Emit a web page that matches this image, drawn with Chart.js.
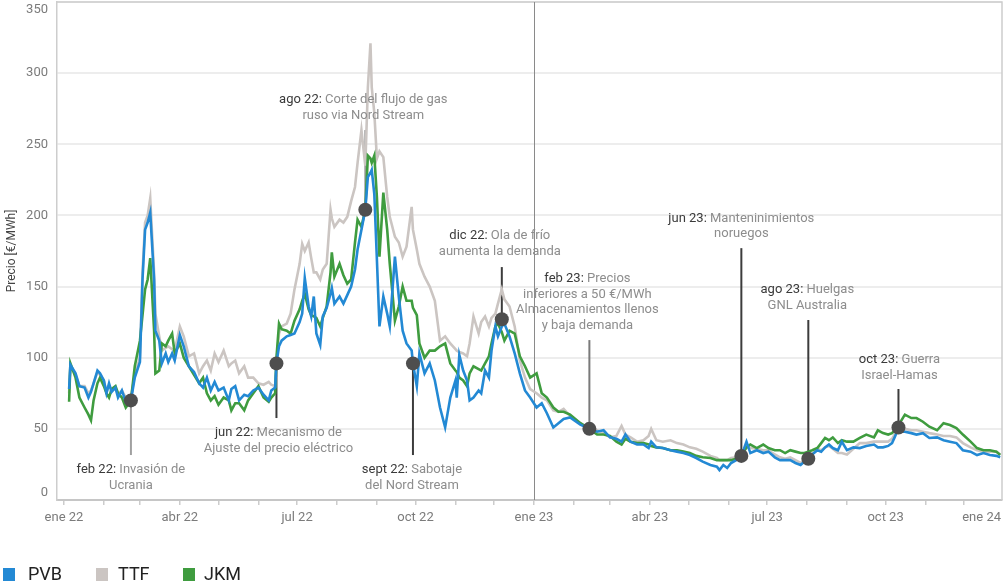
<!DOCTYPE html>
<html>
<head>
<meta charset="utf-8">
<script src="https://cdn.jsdelivr.net/npm/chart.js@4.4.1/dist/chart.umd.min.js"></script>
<style>
  html, body { margin: 0; padding: 0; background: #fff; }
  #wrap { position: relative; width: 1003px; height: 585px; }
  #legend { position: absolute; left: 0; top: 0; width: 1003px; height: 585px; pointer-events: none; }
  .box { position: absolute; top: 568px; width: 12px; height: 13px; }
  .lbl { position: absolute; top: 563px; font: 18px Roboto, 'Liberation Sans', sans-serif; color: #222; line-height: 22px; }
</style>
</head>
<body>
<div id="wrap">
  <canvas id="chart" width="1003" height="585"></canvas>
  <div id="legend"></div>
</div>
<script>
// fechas de muestreo (aprox. cada 3-7 dias)
const dates = [
  '2022-01-05','2022-01-06','2022-01-10','2022-01-13','2022-01-17','2022-01-20','2022-01-22','2022-01-24','2022-01-27','2022-01-29',
  '2022-02-01','2022-02-03','2022-02-05','2022-02-07','2022-02-10','2022-02-12','2022-02-15','2022-02-18','2022-02-22','2022-02-25',
  '2022-03-01','2022-03-03','2022-03-05','2022-03-07','2022-03-09','2022-03-12','2022-03-13','2022-03-16','2022-03-18','2022-03-21',
  '2022-03-23','2022-03-26','2022-03-28','2022-04-01','2022-04-04','2022-04-08','2022-04-12','2022-04-16','2022-04-19','2022-04-22',
  '2022-04-25','2022-04-28','2022-05-01','2022-05-05','2022-05-09','2022-05-11','2022-05-14','2022-05-17','2022-05-21','2022-05-24',
  '2022-05-28','2022-06-01','2022-06-05','2022-06-09','2022-06-11','2022-06-14','2022-06-15','2022-06-17','2022-06-19','2022-06-23',
  '2022-06-26','2022-06-29','2022-07-03','2022-07-05','2022-07-07','2022-07-10','2022-07-12','2022-07-14','2022-07-16','2022-07-19',
  '2022-07-21','2022-07-24','2022-07-27','2022-07-28','2022-07-30','2022-08-03','2022-08-06','2022-08-09','2022-08-12','2022-08-15',
  '2022-08-17','2022-08-20','2022-08-23','2022-08-25','2022-08-27','2022-08-28','2022-08-30','2022-09-01','2022-09-03','2022-09-06',
  '2022-09-09','2022-09-11','2022-09-15','2022-09-18','2022-09-21','2022-09-24','2022-09-28','2022-09-29','2022-10-02','2022-10-04',
  '2022-10-08','2022-10-12','2022-10-16','2022-10-20','2022-10-24','2022-10-28','2022-11-01','2022-11-02','2022-11-04','2022-11-07',
  '2022-11-10','2022-11-12','2022-11-15','2022-11-19','2022-11-21','2022-11-24','2022-11-27','2022-11-29','2022-12-02','2022-12-04',
  '2022-12-07','2022-12-09','2022-12-13','2022-12-17','2022-12-21','2022-12-25','2022-12-29','2023-01-03','2023-01-07','2023-01-11',
  '2023-01-16','2023-01-20','2023-01-24','2023-01-29','2023-02-06','2023-02-13','2023-02-19','2023-02-24','2023-03-01','2023-03-06',
  '2023-03-10','2023-03-13','2023-03-17','2023-03-22','2023-03-27','2023-03-31','2023-04-02','2023-04-06','2023-04-11','2023-04-17',
  '2023-04-22','2023-04-27','2023-05-02','2023-05-07','2023-05-12','2023-05-18','2023-05-23','2023-05-25','2023-05-28','2023-05-31',
  '2023-06-03','2023-06-07','2023-06-11','2023-06-15','2023-06-18','2023-06-23','2023-06-28','2023-07-02','2023-07-07','2023-07-11',
  '2023-07-15','2023-07-19','2023-07-23','2023-07-27','2023-07-30','2023-08-02','2023-08-05','2023-08-09','2023-08-12','2023-08-15',
  '2023-08-18','2023-08-21','2023-08-25','2023-08-28','2023-09-01','2023-09-06','2023-09-11','2023-09-16','2023-09-22','2023-09-25',
  '2023-09-29','2023-10-03','2023-10-06','2023-10-08','2023-10-11','2023-10-12','2023-10-16','2023-10-21','2023-10-25','2023-10-30',
  '2023-11-04','2023-11-10','2023-11-15','2023-11-20','2023-11-25','2023-11-30','2023-12-06','2023-12-11','2023-12-16','2023-12-21',
  '2023-12-26','2023-12-29'
]

const pvb = [
  78,95,89,80,79,72,76,82,91,89, 84,75,82,76,79,72,77,69,70,86,
  97,155,190,195,202,155,119,112,96,103, 97,103,98,116,108,94,90,82,79,86,
  77,83,77,79,70,78,80,70,74,73, 77,79,74,70,77,79,96,108,112,115,
  116,117,125,131,156,136,129,143,117,109, 129,135,145,149,138,143,138,144,150,162,
  176,190,204,227,230,232,215,169,122,143, 131,122,171,143,119,110,105,96,80,103,
  89,96,84,65,51,72,84,72,102,91, 84,70,72,77,75,91,86,105,122,115,
  122,124,115,103,89,77,72,65,68,61, 51,54,57,58,53,50,48,49,44,43,
  41,46,41,39,39,36.5,41,37,36.5,35, 34,33,31.6,29.5,27,24.6,23.4,21,24.6,22.5,
  26,28,31,41,33,35,33,34,30,28, 28,28,26,24.6,27,29,32,35,34,37,
  39,36.5,35,41,35,37,36.5,38,39,37, 37,38,40,44,50.5,48,48,47,46,47,
  43.6,44,42,41,40,35,34,31.6,33,31.6, 31,30
]

const ttf = [
  75,94,88,80,80,75,77,82,90,88, 84,76,80,78,79,74,77,72,72,88,
  100,160,195,200,212,160,131,115,105,107, 108,106,105,122,115,101,103,89,94,98,
  91,103,97,105,94,96,98,89,94,86, 86,82,81,83,81,80,97,117,122,124,
  131,148,166,180,175,181,170,160,160,155, 162,166,204,198,192,197,195,199,210,220,
  237,260,235,290,321,290,272,240,245,241, 213,199,185,181,171,178,206,190,176,166,
  157,150,140,112,115,110,106,105,104,103, 101,110,129,117,125,129,122,128,131,138,
  148,141,136,122,98,86,78,75,72,70, 63,62,64,59,54,50,49,47,44,45,
  52,46,44,41,42,45,50,42,41,42, 40,39,37,36,34,31,29.5,28,28,28,
  29.5,30,31,37,36.5,36,35,35,32,30, 29,30,28,26,28,29,32,36,35,37,
  38,36,33,33,32,36,40,40,41,41, 41,41,43,46,49,50,50,49,49,48,
  47,46,45,45,44,40,37,35,34,34, 34,32
]

const jkm = [
  69,96,86,72,65,60,56,70,82,86, 80,75,72,78,80,75,72,65,70,94,
  112,130,148,155,170,119,89,91,110,108, 112,117,103,110,100,94,88,82,86,75,
  70,73,67,72,70,63,68,68,63,70, 75,80,72,69,72,75,100,124,120,119,
  117,126,134,140,145,134,130,129,128,122, 128,136,160,174,157,166,158,152,155,181,
  197,192,204,242,240,237,242,213,171,216, 190,166,126,136,150,140,140,135,130,110,
  100,105,105,108,110,96,91,90,86,84, 80,89,94,92,91,96,101,110,122,124,
  118,112,119,117,101,94,86,89,75,72, 65,62,62,60,54,50,46,46,45,41,
  39,43,41,40,40,39,38,37,36.5,35, 35,34,33,31,30,29.5,28,28,28,28,
  28,29,31,37,39,36.5,39,36.5,35,35, 33,35,34,33,33,34,35,36.5,40,43.6,
  42,44,40,42,41,41,43.6,46,44,49, 47,46,47,49,52,54,60,57.6,57.6,55,
  51.5,49,54,52.7,50.5,46,41,36.5,35,35, 34,31.6
]

const seriesNames = ['PVB', 'TTF', 'JKM']
const yTicks = [0, 50, 100, 150, 200, 250, 300, 350]
const monthNames = ['ene', 'feb', 'mar', 'abr', 'may', 'jun', 'jul', 'ago', 'sep', 'oct', 'nov', 'dic']

// hitos
const eventDates = ['2022-02-22', '2022-06-15', '2022-08-23', '2022-09-29', '2022-12-07', '2023-02-13', '2023-06-11', '2023-08-02', '2023-10-11']
const eventValues = [70, 96, 204, 96, 127, 50, 31, 29, 51]
const eventTitles = ['feb 22:', 'jun 22:', 'ago 22:', 'sept 22:', 'dic 22:', 'feb 23:', 'jun 23:', 'ago 23:', 'oct 23:']
const eventTexts = [
  ['Invasión de', 'Ucrania'],
  ['Mecanismo de', 'Ajuste del precio eléctrico'],
  ['Corte del flujo de gas', 'ruso via Nord Stream'],
  ['Sabotaje', 'del Nord Stream'],
  ['Ola de frío', 'aumenta la demanda'],
  ['Precios', 'inferiores a 50 €/MWh', 'Almacenamientos llenos', 'y baja demanda'],
  ['Manteninimientos', 'noruegos'],
  ['Huelgas', 'GNL Australia'],
  ['Guerra', 'Israel-Hamas']
]

// posicion de las etiquetas (en unidades del eje y) y color del conector
const eventLayout = [
  { end: 31.6, text: 21.1, dx: 0, color: '#a0a0a0' },
  { end: 57.6, text: 47.1, dx: 2, color: '#3c3c3c' },
  { end: 260, text: 281, dx: -2, color: '#9a9a9a' },
  { end: 31.6, text: 21.1, dx: -1, color: '#3c3c3c' },
  { end: 163.7, text: 185.5, dx: -2, color: '#3c3c3c' },
  { end: 112.4, text: 155.3, dx: -2, color: '#7a7a7a' },
  { end: 177, text: 198, dx: 0, color: '#3c3c3c' },
  { end: 126.5, text: 147.6, dx: -1, color: '#3c3c3c' },
  { end: 78, text: 98.4, dx: 1, color: '#3c3c3c' }
]

const colors = ['#2389d4', '#cbc5c2', '#3f9c3f']
const FONT = "Roboto, 'Liberation Sans', sans-serif"

const base = Date.UTC(2022, 0, 1)
let dayOf = function (s) {
  let p = s.split('-').map(Number)
  return (Date.UTC(p[0], p[1] - 1, p[2]) - base) / 86400000
}

let monthDays = []
for (let m = 0; m < 24; m++) monthDays.push((Date.UTC(2022, m, 1) - base) / 86400000)
let quarterLabels = []
for (let m = 0; m <= 24; m += 3) {
  quarterLabels.push({ day: (Date.UTC(2022, m, 1) - base) / 86400000, text: `${monthNames[m % 12]} ${22 + Math.floor(m / 12)}` })
}

let toPoints = values => dates.map((d, i) => ({ x: dayOf(d), y: values[i] }))

let overlay = {
  id: 'overlay',
  beforeDatasetsDraw(chart) {
    let { ctx, chartArea: a, scales: { x, y } } = chart
    ctx.save()
    ctx.strokeStyle = '#cdcdcd'
    ctx.lineWidth = 1.5
    ctx.beginPath()
    ctx.moveTo(a.left, a.top)
    ctx.lineTo(a.right, a.top)
    ctx.lineTo(a.right, a.bottom)
    ctx.stroke()

    let vx = Math.round(x.getPixelForValue(dayOf('2023-01-01'))) + 0.5
    ctx.strokeStyle = '#8a8a8a'
    ctx.lineWidth = 1
    ctx.beginPath()
    ctx.moveTo(vx, a.top)
    ctx.lineTo(vx, a.bottom)
    ctx.stroke()

    eventDates.forEach((d, i) => {
      let px = x.getPixelForValue(dayOf(d))
      ctx.strokeStyle = eventLayout[i].color
      ctx.lineWidth = 2
      ctx.beginPath()
      ctx.moveTo(px, y.getPixelForValue(eventValues[i]))
      ctx.lineTo(px, y.getPixelForValue(eventLayout[i].end))
      ctx.stroke()
    })
    ctx.restore()
  },
  afterDraw(chart) {
    let { ctx, chartArea: a, scales: { x, y } } = chart
    ctx.save()
    ctx.font = `13px ${FONT}`
    ctx.fillStyle = '#7b7b7b'
    ctx.textBaseline = 'middle'
    ctx.textAlign = 'right'
    yTicks.forEach(v => {
      let py = Math.min(Math.max(y.getPixelForValue(v), a.top + 8), a.bottom - 7)
      ctx.fillText(String(v), 48, py)
    })
    quarterLabels.forEach(l => {
      let w = ctx.measureText(l.text).width
      let px = Math.min(x.getPixelForValue(l.day), a.right - w / 2 - 1)
      ctx.textAlign = 'center'
      ctx.fillText(l.text, px, 518)
    })

    ctx.save()
    ctx.translate(12, 251)
    ctx.rotate(-Math.PI / 2)
    ctx.font = `12px ${FONT}`
    ctx.fillStyle = '#444'
    ctx.textAlign = 'center'
    ctx.fillText('Precio [€/MWh]', 0, 0)
    ctx.restore()

    ctx.font = `13px ${FONT}`
    ctx.textAlign = 'left'
    eventTitles.forEach((title, i) => {
      let cx = x.getPixelForValue(dayOf(eventDates[i])) + eventLayout[i].dx
      let ty = y.getPixelForValue(eventLayout[i].text)
      eventTexts[i].forEach((line, j) => {
        let lineY = ty + j * 15.5
        if (j == 0) {
          let head = title + ' '
          let wh = ctx.measureText(head).width
          let wt = ctx.measureText(line).width
          let sx = cx - (wh + wt) / 2
          ctx.fillStyle = '#3a3a3a'
          ctx.fillText(head, sx, lineY)
          ctx.fillStyle = '#8d8d8d'
          ctx.fillText(line, sx + wh, lineY)
        } else {
          let w = ctx.measureText(line).width
          ctx.fillStyle = '#8d8d8d'
          ctx.fillText(line, cx - w / 2, lineY)
        }
      })
    })
    ctx.restore()
  }
}

let lineSet = (i, values, order) => ({
  label: seriesNames[i],
  data: toPoints(values),
  borderColor: colors[i],
  backgroundColor: colors[i],
  borderWidth: 2.6,
  pointRadius: 0,
  tension: 0,
  order: order
})

let config = {
  type: 'line',
  data: {
    datasets: [
      {
        label: 'hitos',
        data: eventDates.map((d, i) => ({ x: dayOf(d), y: eventValues[i] })),
        showLine: false,
        pointRadius: 7,
        pointBackgroundColor: '#4e4e4e',
        pointBorderWidth: 0,
        order: 0
      },
      lineSet(0, pvb, 1),
      lineSet(2, jkm, 2),
      lineSet(1, ttf, 3)
    ]
  },
  options: {
    responsive: false,
    animation: false,
    devicePixelRatio: 1,
    layout: { autoPadding: false, padding: { left: 0, right: 1, top: 2, bottom: 55 } },
    plugins: {
      legend: { display: false },
      tooltip: { enabled: false }
    },
    scales: {
      x: {
        type: 'linear',
        min: -5.4,
        max: 728.4,
        afterBuildTicks: scale => { scale.ticks = monthDays.map(v => ({ value: v })) },
        afterFit: scale => { scale.height = 30 },
        ticks: { display: false },
        grid: { drawOnChartArea: false, drawTicks: true, tickLength: 5, color: '#cccccc', lineWidth: 1.5 },
        border: { display: true, color: '#c6c6c6', width: 2 }
      },
      y: {
        min: 0,
        max: 350,
        ticks: { display: false, stepSize: 50 },
        afterFit: scale => { scale.width = 57 },
        grid: { color: '#ededed', lineWidth: 2, drawTicks: false },
        border: { display: true, color: '#cdcdcd', width: 1.5 }
      }
    }
  },
  plugins: [overlay]
}

new Chart(document.getElementById('chart'), config)

let legend = document.getElementById('legend')
let boxX = [3, 96, 183]
let textX = [28, 118, 204]
seriesNames.forEach((name, i) => {
  legend.innerHTML += `<div class="box" style="left:${ boxX[i] }px;background:${ colors[i] }"></div>
    <div class="lbl" style="left:${ textX[i] }px">${ name }</div>`
})
</script>
</body>
</html>
